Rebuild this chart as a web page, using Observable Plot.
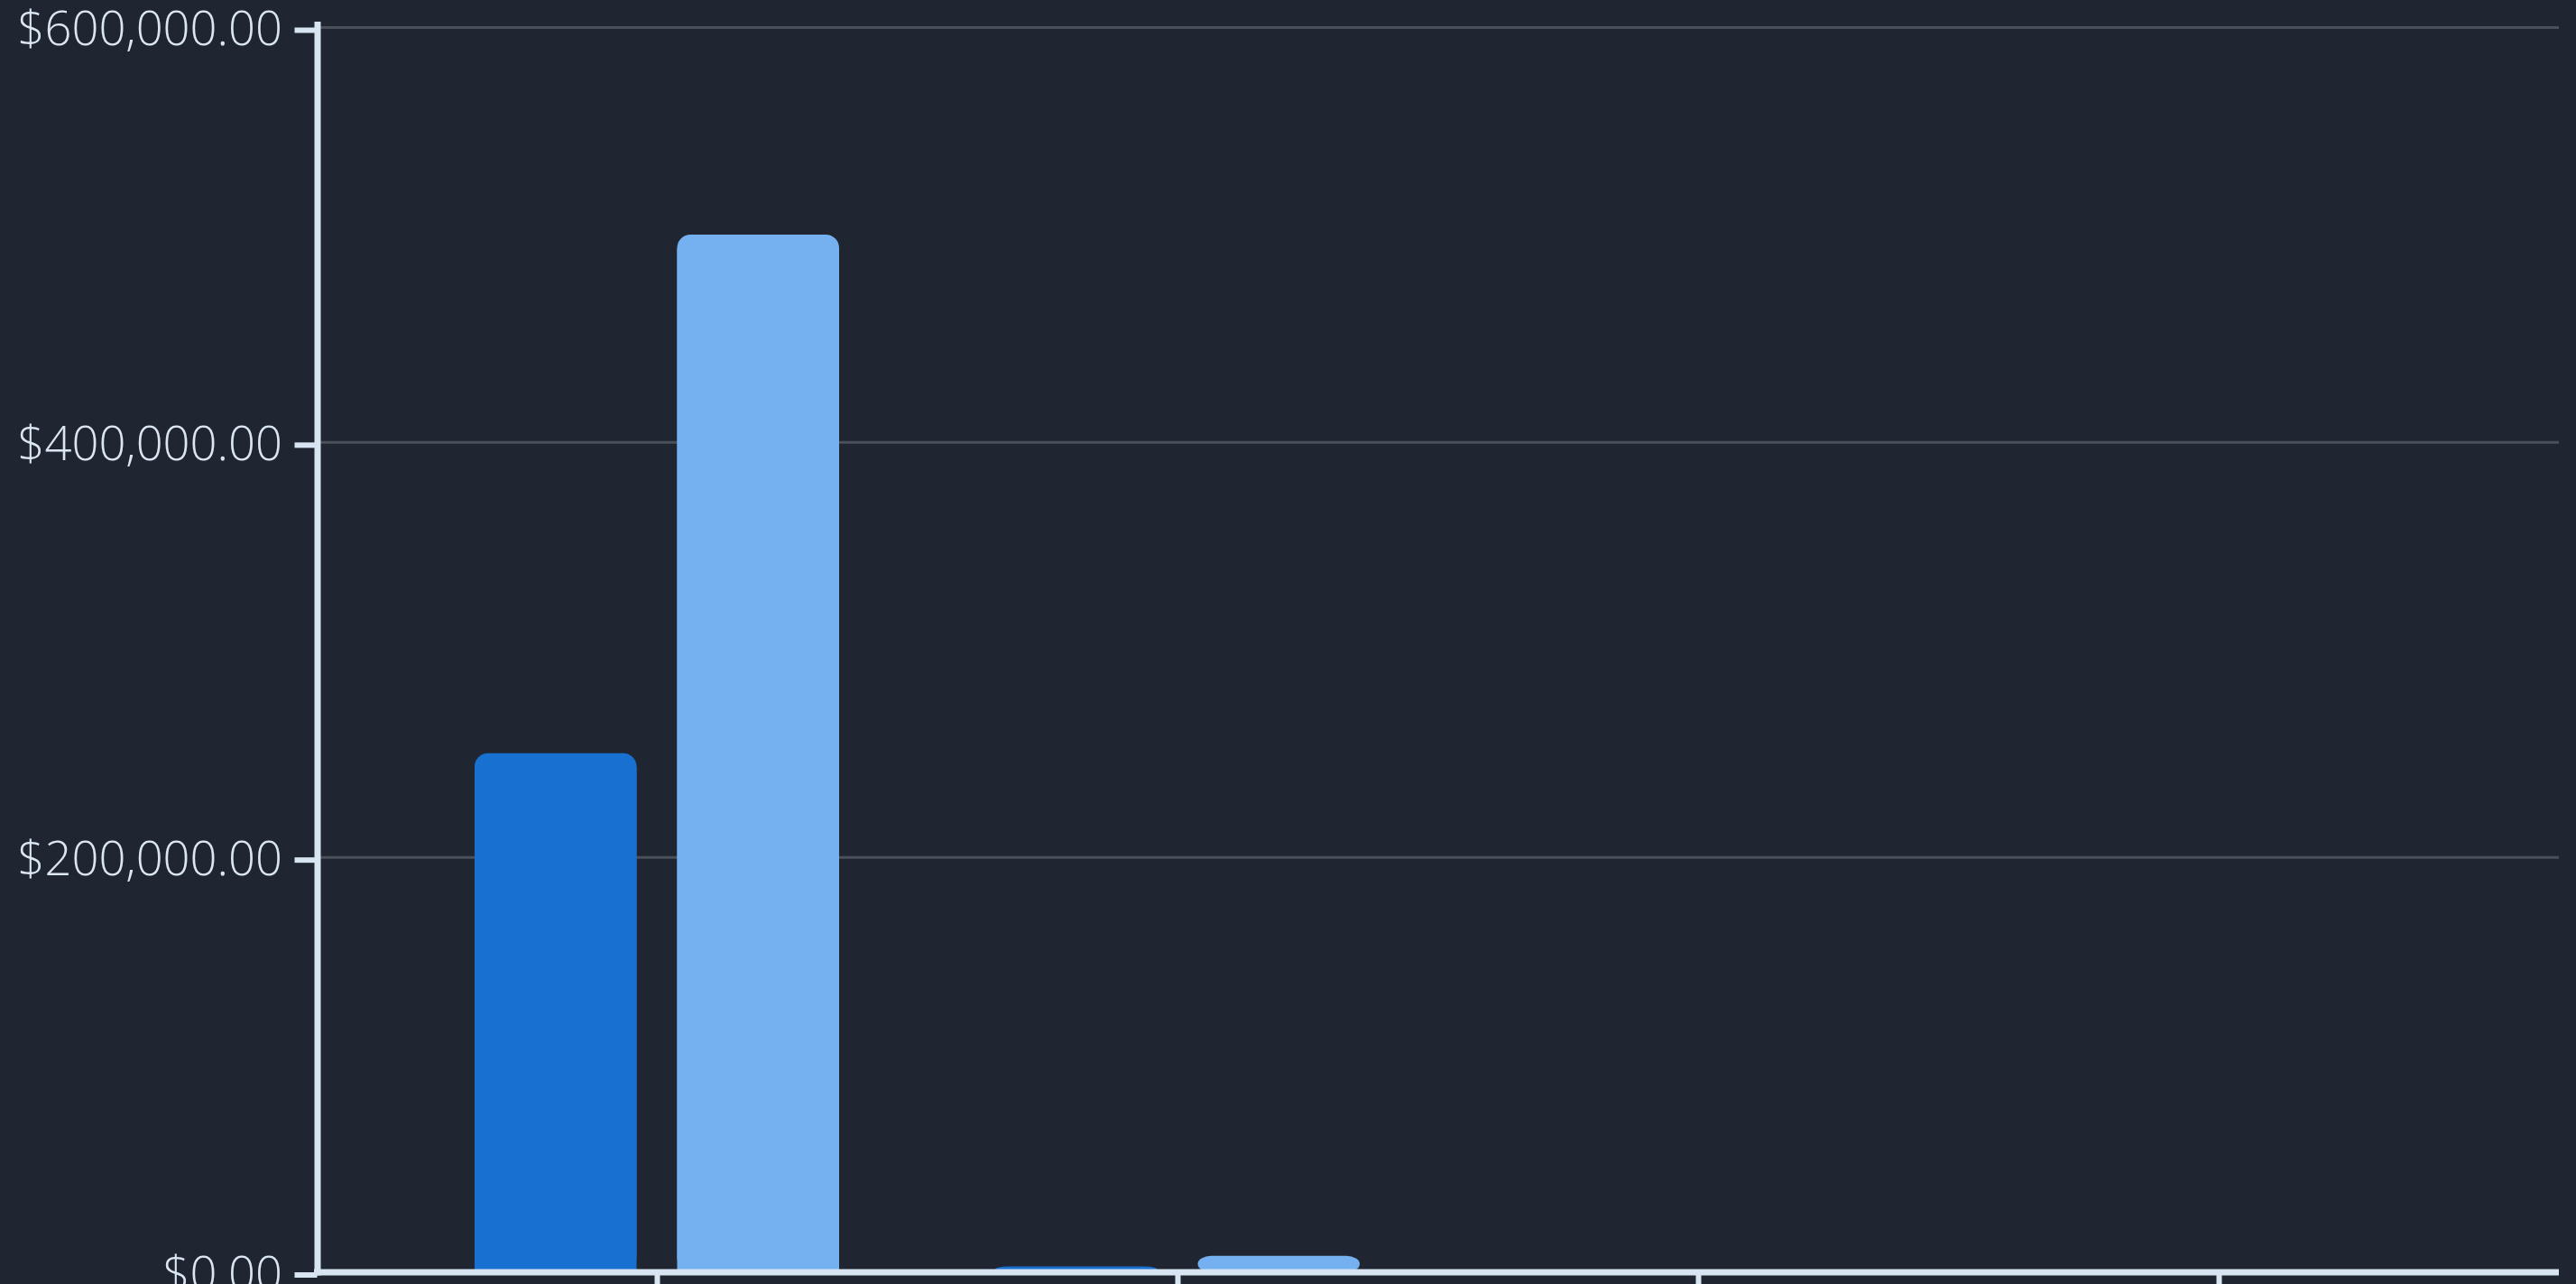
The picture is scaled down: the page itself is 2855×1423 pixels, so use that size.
<!DOCTYPE html>
<html><head><meta charset="utf-8">
<script src="https://cdn.jsdelivr.net/npm/d3@7"></script>
<script src="https://cdn.jsdelivr.net/npm/@observablehq/plot@0.6"></script>
<style>
html,body{margin:0;padding:0;background:#202631;overflow:hidden}
#chart svg{display:block}
</style></head><body><div id="chart"></div>
<script>
const groups = ["Group 1", "Group 2", "Group 3", "Group 4"];
const seriesNames = ["Series A", "Series B"];
const seriesA = [250000, 2600, 0, 0];
const seriesB = [500000, 7700, 0, 0];
const yTicks = [0, 200000, 400000, 600000];

const rowsA = groups.map((g, i) => ({group: g, series: seriesNames[0], value: seriesA[i]}));
const rowsB = groups.map((g, i) => ({group: g, series: seriesNames[1], value: seriesB[i]}));
const fmt = d3.format("$,.2f");
const axisColor = "#d6e5f1";
const half = 224.5;
const radius = 15;

const plot = Plot.plot({
  width: 2855,
  height: 1423,
  marginTop: 30,
  marginBottom: 13.5,
  marginLeft: 351.5,
  marginRight: 19,
  style: {background: "#202631", color: axisColor, fontFamily: "'Open Sans', 'Noto Sans', sans-serif"},
  x: {domain: groups, padding: 0.3, axis: null},
  y: {domain: [0, 600000], axis: null},
  color: {domain: seriesNames, range: ["#1871d1", "#75b1f0"]},
  marks: [
    Plot.gridY(yTicks, {stroke: "#4a505a", strokeOpacity: 1, strokeWidth: 3}),
    Plot.barY(rowsA, {x: "group", y: "value", fill: "series", insetRight: half, rx: radius}),
    Plot.barY(rowsA, {x: "group", y: "value", fill: "series", insetRight: half, insetTop: radius}),
    Plot.barY(rowsB, {x: "group", y: "value", fill: "series", insetLeft: half, rx: radius}),
    Plot.barY(rowsB, {x: "group", y: "value", fill: "series", insetLeft: half, insetTop: radius}),
    Plot.ruleY([0], {stroke: axisColor, strokeWidth: 7, insetLeft: -3.5}),
    Plot.frame({anchor: "left", stroke: axisColor, strokeWidth: 7, insetTop: -3}),
    Plot.axisY(yTicks, {tickSize: 25, tickPadding: 14, strokeWidth: 6, tickFormat: fmt, fontSize: 52.5, fontWeight: 300, fill: "#dae7f3", label: null, dy: 3}),
    Plot.axisX({tickSize: 20, strokeWidth: 6, fill: "none", label: null})
  ]
});
document.getElementById("chart").appendChild(plot);
</script>
</body></html>
